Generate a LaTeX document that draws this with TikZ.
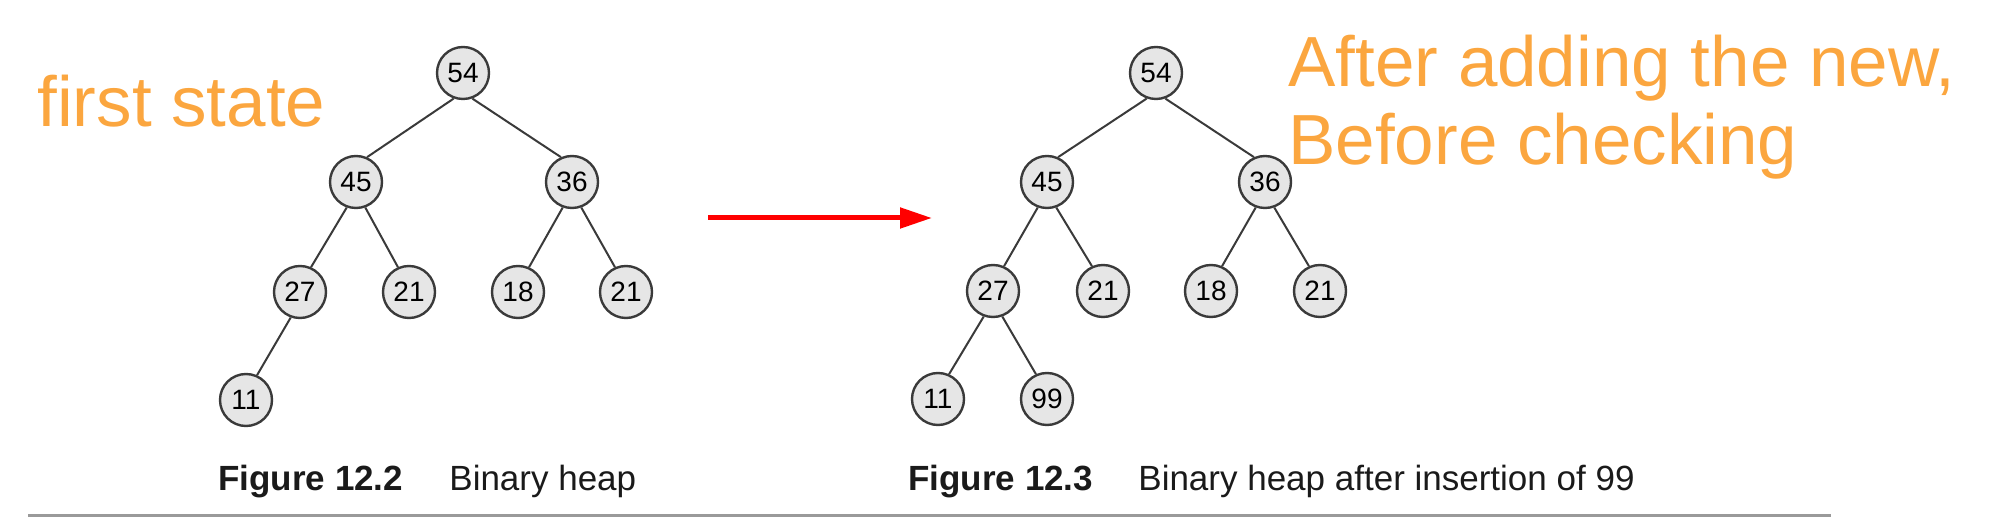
\documentclass[tikz,border=0pt]{standalone}
\usepackage{fontspec}
\setmainfont{Liberation Sans}
\usepackage{tikz}
\usetikzlibrary{arrows.meta}
\definecolor{heapfill}{HTML}{E6E6E6}
\definecolor{heapline}{HTML}{3A3A3A}
\definecolor{noteorange}{HTML}{FBA63F}
\definecolor{rulegray}{HTML}{9A9A9A}
\definecolor{captext}{HTML}{1A1A1A}
\tikzset{
  hnode/.style={circle,draw=heapline,fill=heapfill,line width=1.2pt,minimum size=26pt,
                inner sep=0pt,font=\fontsize{14}{14}\selectfont},
  hedge/.style={draw=heapline,line width=1pt},
  note/.style={anchor=base west,inner sep=0pt,text=noteorange,align=left,
               font=\fontsize{35.5}{39}\selectfont},
  figcap/.style={anchor=base west,inner sep=0pt,text=captext,font=\fontsize{17.5}{17.5}\selectfont},
  fignum/.style={figcap,font=\fontsize{17.5}{17.5}\selectfont\bfseries},
  redarr/.style={-{Triangle[length=16pt,width=10pt]},line width=2.5pt,red},
}

\begin{document}
\begin{tikzpicture}[x=0.5pt,y=-0.5pt]
\useasboundingbox (0,0) rectangle (2000,517);

% first state
\node[hnode] (a54) at (463,73) {54};
\node[hnode] (a45) at (356,182) {45};
\node[hnode] (a36) at (572,182) {36};
\node[hnode] (a27) at (300,292) {27};
\node[hnode] (a21) at (409,292) {21};
\node[hnode] (a18) at (518,292) {18};
\node[hnode] (a21r) at (626,292) {21};
\node[hnode] (a11) at (246,400) {11};
\draw[hedge] (a54.250) -- (a45.66);
\draw[hedge] (a54.290) -- (a36.114);
\draw[hedge] (a45.250) -- (a27.66);
\draw[hedge] (a45.290) -- (a21.114);
\draw[hedge] (a36.250) -- (a18.66);
\draw[hedge] (a36.290) -- (a21r.114);
\draw[hedge] (a27.250) -- (a11.66);

% after insertion
\node[hnode] (b54) at (1156,73) {54};
\node[hnode] (b45) at (1047,182) {45};
\node[hnode] (b36) at (1265,182) {36};
\node[hnode] (b27) at (993,291) {27};
\node[hnode] (b21) at (1103,291) {21};
\node[hnode] (b18) at (1211,291) {18};
\node[hnode] (b21r) at (1320,291) {21};
\node[hnode] (b11) at (938,399) {11};
\node[hnode] (b99) at (1047,399) {99};
\draw[hedge] (b54.250) -- (b45.66);
\draw[hedge] (b54.290) -- (b36.114);
\draw[hedge] (b45.250) -- (b27.66);
\draw[hedge] (b45.290) -- (b21.114);
\draw[hedge] (b36.250) -- (b18.66);
\draw[hedge] (b36.290) -- (b21r.114);
\draw[hedge] (b27.250) -- (b11.66);
\draw[hedge] (b27.290) -- (b99.114);

% arrow between the two states
\coordinate (arrfrom) at (708,218);
\coordinate (arrto) at (932,218);
\draw[redarr] (arrfrom) -- (arrto);

% notes
\node[note] (first) at (37,127) {first state};
\node[note] (after) at (1288,165) {After adding the new,\\Before checking};

% captions
\node[fignum] (fig2) at (218,490) {Figure 12.2};
\node[figcap] (cap2) at (449,490) {Binary heap};
\node[fignum] (fig3) at (908,490) {Figure 12.3};
\node[figcap] (cap3) at (1138,490) {Binary heap after insertion of 99};
\draw[rulegray,line width=1.5pt] (28,515.5) -- (1831,515.5);
\end{tikzpicture}
\end{document}
